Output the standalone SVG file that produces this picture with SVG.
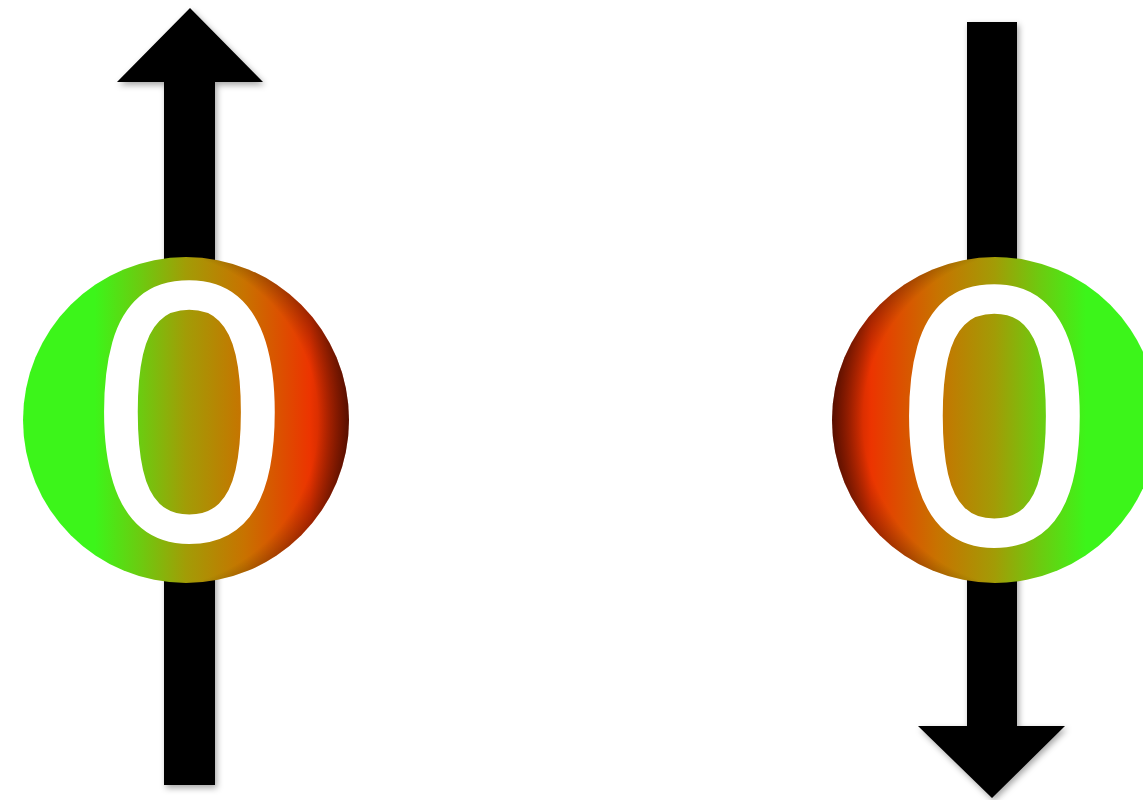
<svg xmlns="http://www.w3.org/2000/svg" width="1143" height="800" viewBox="0 0 1143 800">
<style>
.arrow{fill:#000;filter:url(#sh)}
.digit{font-family:"Open Sans","Liberation Sans",sans-serif;font-size:352px;fill:#fff;stroke:#fff;stroke-width:5;text-anchor:middle}
</style>
<defs>
<filter id="sh" x="-30%" y="-10%" width="160%" height="120%">
<feDropShadow dx="2" dy="3" stdDeviation="3" flood-color="#000" flood-opacity="0.35"/>
</filter>
<linearGradient id="gL" x1="0" y1="0" x2="1" y2="0">
<stop offset="0" stop-color="#3cf51a"/>
<stop offset="0.22" stop-color="#3cf51a"/>
<stop offset="0.36" stop-color="#6ccb10"/>
<stop offset="0.5" stop-color="#a29c06"/>
<stop offset="0.68" stop-color="#c87200"/>
<stop offset="0.88" stop-color="#ec3400"/>
<stop offset="1" stop-color="#9a1a00"/>
</linearGradient>
<linearGradient id="gR" x1="1" y1="0" x2="0" y2="0">
<stop offset="0" stop-color="#3cf51a"/>
<stop offset="0.22" stop-color="#3cf51a"/>
<stop offset="0.36" stop-color="#6ccb10"/>
<stop offset="0.5" stop-color="#a29c06"/>
<stop offset="0.68" stop-color="#c87200"/>
<stop offset="0.88" stop-color="#ec3400"/>
<stop offset="1" stop-color="#9a1a00"/>
</linearGradient>
<radialGradient id="rimL" gradientUnits="userSpaceOnUse" cx="150" cy="420" r="200">
<stop offset="0.84" stop-color="#000" stop-opacity="0"/>
<stop offset="1" stop-color="#000" stop-opacity="0.45"/>
</radialGradient>
<radialGradient id="rimR" gradientUnits="userSpaceOnUse" cx="1031" cy="420" r="200">
<stop offset="0.84" stop-color="#000" stop-opacity="0"/>
<stop offset="1" stop-color="#000" stop-opacity="0.45"/>
</radialGradient>
</defs>
<rect width="1143" height="800" fill="#fff"/>
<g id="connectors">
<polygon class="arrow" points="190,8 263,82 215,82 215,785 164,785 164,82 117,82"/>
<polygon class="arrow" points="967,22 1017,22 1017,726 1065,726 992,798 918,726 967,726"/>
</g>
<g id="spin-up">
<circle cx="186" cy="420" r="163" fill="url(#gL)"/>
<circle cx="186" cy="420" r="163" fill="url(#rimL)"/>
<text class="digit" x="189.5" y="538">0</text>
</g>
<g id="spin-down">
<circle cx="995" cy="420" r="163" fill="url(#gR)"/>
<circle cx="995" cy="420" r="163" fill="url(#rimR)"/>
<text class="digit" x="994.5" y="542">0</text>
</g>
</svg>
